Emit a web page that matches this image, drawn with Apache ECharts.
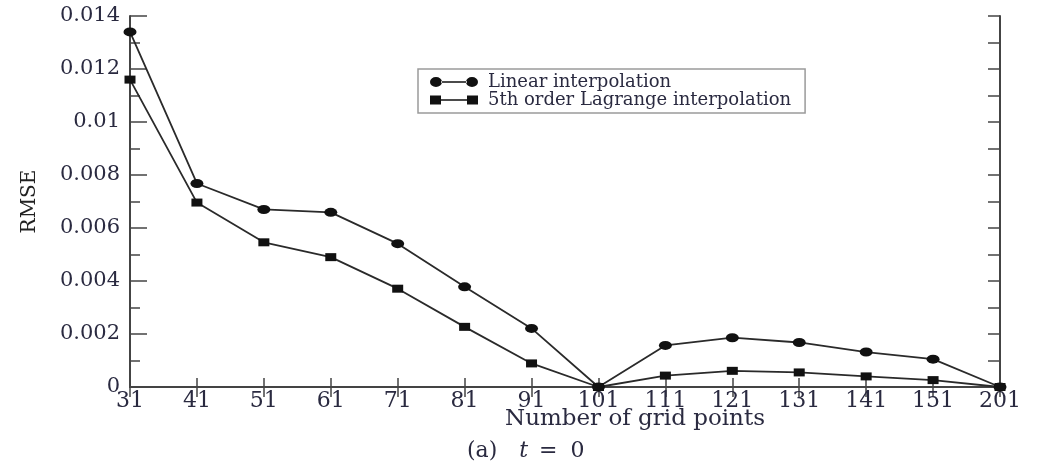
<!DOCTYPE html>
<html>
<head>
<meta charset="utf-8">
<script src="https://cdn.jsdelivr.net/npm/echarts@6/dist/echarts.min.js"></script>
<style>html,body{margin:0;padding:0;background:#fff;}#c{width:1037px;height:462px;}</style>
</head>
<body>
<div id="c"></div>
<script>
var categories = ['31','41','51','61','71','81','91','101','111','121','131','141','151','201'];
var linearValues = [0.0134, 0.00768, 0.0067, 0.00659, 0.00541, 0.00378, 0.00221, 0, 0.00157, 0.00186, 0.00168, 0.00132, 0.00105, 0];
var lagrangeValues = [0.0116, 0.00696, 0.00546, 0.0049, 0.00371, 0.00227, 0.00089, 0, 0.00043, 0.00061, 0.00055, 0.0004, 0.00026, 0];
var seriesNames = ['Linear interpolation', '5th order Lagrange interpolation'];
var yLabelValues = [0, 0.002, 0.004, 0.006, 0.008, 0.01, 0.012, 0.014];

var FONT = 'DejaVu Serif';
var TXT = '#2a2a40';
var AX = '#444';

var chart = echarts.init(document.getElementById('c'), null, {renderer: 'canvas'});
var circleIcon = 'path://M0,6a6,5 0 1,0 12,0a6,5 0 1,0 -12,0zM11,5.2h26v1.6h-26zM36,6a6,5 0 1,0 12,0a6,5 0 1,0 -12,0z';
var squareIcon = 'path://M0,1.5h11v9h-11zM10,5.2h28v1.6h-28zM37,1.5h11v9h-11z';

chart.setOption({
  animation: false,
  backgroundColor: '#fff',
  title: {
    text: '{a|(a)}{i|t}{e|=}{z|0}',
    left: 462, top: 435,
    textStyle: {
      fontFamily: FONT, fontSize: 22, fontWeight: 'normal', color: TXT,
      rich: {
        a: { fontFamily: FONT, fontSize: 22, color: TXT },
        i: { fontFamily: FONT, fontStyle: 'italic', fontSize: 22, color: TXT, padding: [0, 0, 0, 22] },
        e: { fontFamily: FONT, fontSize: 22, color: TXT, padding: [0, 0, 0, 11] },
        z: { fontFamily: FONT, fontSize: 22, color: TXT, padding: [0, 0, 0, 13] }
      }
    }
  },
  grid: { left: 130, right: 37, top: 16, bottom: 75, containLabel: false },
  legend: {
    orient: 'vertical',
    left: 418, top: 69,
    padding: [4, 14, 4, 12],
    itemGap: 0,
    itemWidth: 48, itemHeight: 12,
    borderColor: '#9a9a9a', borderWidth: 1.5,
    textStyle: { fontFamily: FONT, fontSize: 18, lineHeight: 18, color: TXT, padding: [0, 0, 0, 5] },
    data: [
      { name: seriesNames[0], icon: circleIcon },
      { name: seriesNames[1], icon: squareIcon }
    ]
  },
  xAxis: [{
    type: 'category',
    data: categories,
    boundaryGap: false,
    position: 'bottom',
    name: 'Number of grid points',
    nameLocation: 'middle',
    nameGap: 21,
    nameMoveOverlap: false,
    nameTextStyle: { fontFamily: FONT, fontSize: 23, color: TXT, padding: [0, 0, 0, 140], verticalAlign: 'top' },
    axisLine: { lineStyle: { color: AX, width: 2 } },
    axisTick: { inside: true, length: 9, lineStyle: { color: AX, width: 1.5 } },
    axisLabel: { fontFamily: FONT, fontSize: 22, color: TXT, margin: 3, interval: 0 },
    splitLine: { show: false }
  }, {
    type: 'category',
    data: categories,
    boundaryGap: false,
    position: 'top',
    axisLine: { lineStyle: { color: AX, width: 2 } },
    axisTick: { inside: true, length: 10, lineStyle: { color: AX, width: 1.5 } },
    axisLabel: { show: false },
    splitLine: { show: false }
  }],
  yAxis: [{
    type: 'value',
    min: 0, max: 0.014, interval: 0.002,
    position: 'left',
    name: 'RMSE',
    nameLocation: 'middle',
    nameRotate: 90,
    nameGap: 90,
    nameMoveOverlap: false,
    nameTextStyle: { fontFamily: FONT, fontSize: 20, color: '#222' },
    axisLine: { show: true, lineStyle: { color: AX, width: 2 } },
    axisTick: { show: true, inside: true, length: 17, lineStyle: { color: AX, width: 1.5 } },
    minorTick: { show: true, splitNumber: 2, length: 10, lineStyle: { color: AX, width: 1.5 } },
    axisLabel: {
      fontFamily: FONT, fontSize: 21, color: TXT, margin: 10,
      formatter: function (v) {
        for (var i = 0; i < yLabelValues.length; i++) {
          if (Math.abs(yLabelValues[i] - v) < 1e-9) return String(yLabelValues[i]);
        }
        return '';
      }
    },
    splitLine: { show: false }
  }, {
    type: 'value',
    min: 0, max: 0.014, interval: 0.001,
    position: 'right',
    axisLine: { show: true, lineStyle: { color: AX, width: 2 } },
    axisTick: { show: true, inside: true, length: 12, lineStyle: { color: AX, width: 1.5 } },
    axisLabel: { show: false },
    splitLine: { show: false }
  }],
  series: [{
    name: seriesNames[0],
    type: 'line',
    data: linearValues,
    xAxisIndex: 0, yAxisIndex: 0,
    symbol: 'circle',
    symbolSize: [13, 9],
    lineStyle: { color: '#2a2a2a', width: 1.8 },
    itemStyle: { color: '#111' },
    z: 3
  }, {
    name: seriesNames[1],
    type: 'line',
    data: lagrangeValues,
    xAxisIndex: 0, yAxisIndex: 0,
    symbol: 'rect',
    symbolSize: [11, 8],
    lineStyle: { color: '#2a2a2a', width: 1.8 },
    itemStyle: { color: '#111' },
    z: 3
  }]
});
</script>
</body>
</html>
